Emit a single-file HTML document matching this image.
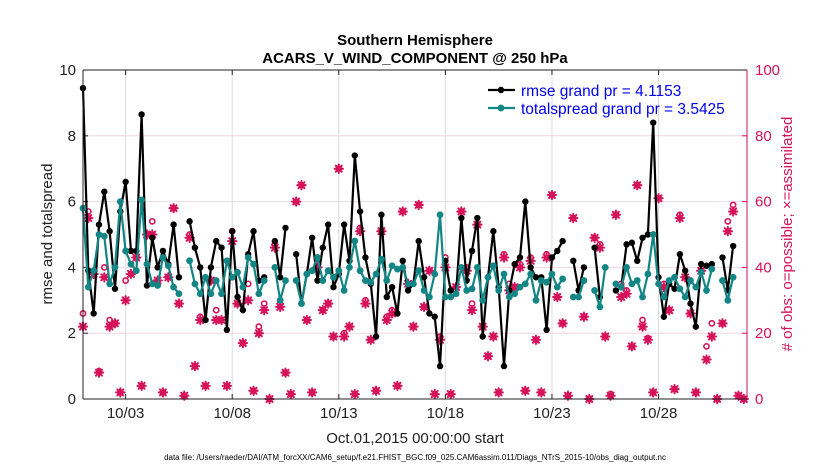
<!DOCTYPE html>
<html><head><meta charset="utf-8"><style>
body{margin:0;background:#fff;font-family:"Liberation Sans",sans-serif}
svg{display:block}
</style></head><body>
<svg id="chart" width="830" height="470">
</svg>
<script>
const rmse=[9.45,3.9,2.6,5.3,6.3,5.1,3.35,5.7,6.6,4.5,4.5,8.65,3.45,4.9,4.0,4.5,4.1,5.3,3.7,null,5.4,4.6,4.0,2.4,4.0,4.8,4.6,2.1,5.1,3.1,2.7,
4.4,5.1,3.6,3.7,null,4.8,3.7,5.2,null,4.4,2.9,3.8,4.9,3.6,4.6,5.3,3.4,3.8,5.3,4.2,7.4,5.7,4.3,3.5,1.9,5.6,3.1,3.4,2.6,4.2,3.3,
3.5,4.8,3.7,2.6,2.5,1.0,4.2,3.3,3.2,5.5,3.6,4.5,5.5,1.9,3.7,5.1,3.4,1.0,3.3,4.1,4.3,6.0,4.0,3.7,3.7,2.1,4.3,4.5,4.8,null,4.2,
3.3,4.0,null,4.6,3.1,null,null,3.3,3.4,4.7,4.75,4.2,4.9,5.0,8.4,3.7,2.5,3.5,3.35,4.4,3.9,2.9,2.2,4.1,4.05,4.1,null,4.3,3.3,4.65];
const spread=[5.8,3.4,3.9,5.0,4.95,3.5,4.0,6.0,4.5,4.1,3.9,6.05,4.1,3.5,3.45,4.3,4.05,3.4,3.2,null,4.2,3.5,3.2,3.7,3.2,3.6,3.2,4.2,3.7,3.85,3.4,
4.3,4.1,3.2,3.6,null,4.0,3.0,3.6,null,3.6,2.9,3.8,3.9,4.3,3.6,3.9,3.7,3.9,3.3,4.0,4.8,3.9,3.6,3.55,3.8,4.25,3.6,4.05,3.95,4.0,3.5,
3.5,3.9,3.3,3.1,3.8,5.6,3.1,3.1,3.2,4.0,3.3,3.35,4.0,3.0,3.7,4.05,3.3,3.8,3.1,3.2,3.4,3.5,3.8,3.0,3.6,3.55,3.8,3.4,3.65,null,3.1,
3.1,3.6,null,3.3,2.8,4.0,null,3.5,3.4,4.0,3.5,3.6,3.1,3.8,5.0,3.5,3.1,3.6,3.7,3.35,3.1,3.6,3.4,3.85,3.3,3.95,null,3.6,3.0,3.7];
const obsAssim=[22,55,38,8,37,22,23,2,30,38,43,4,50,50,36,2,37,58,29,1,49,10,24,4,36,24,24,4,48,29,17,
30,2.5,20,27,0,46,28,8,1.5,60,65,24,2,40,27,29,19,70,19,22,1.5,51,29,18,2.5,51,24,26,4,57,35,
22,59,28,39,1.5,18,40,1.5,34,57,39,27,53,22,13,19,2,43,33,34,40,2.5,42,18,2,43,62,31,23,1,55,
null,25,0,49,46,19,1,56,31,32,16,65,22,18,2,61,34,27,3,55,37,26,2,39,12,19,0,23,51,57,1,0];
const obsPossible=[26,57,38,8.5,40,24,23,2,36,38,43,4,50,54,36,2,37,58,29,1,50,10,25,4,36,27,24,4,51,29,17,
35,2.5,22,29,0,47,29,8,1.5,60,65,24,2,41,27,29,19,70,20,22,1.5,52,30,18,2.5,51,25,27,4,57,35,
22,59,28,39,1.5,19,43,1.5,34,57,40,29,53,22,13,19,2,44,35,34,41,2.5,43,18,2,44,62,31,23,1,55,
null,25,0,49,47,19,1.5,56,35,33,16,65,24,18.5,2,61,35,27,3,56,37,26,2,39,16,23,0,23,54,59,1,0];
const yTicks=[0,2,4,6,8,10];
const y2Ticks=[0,20,40,60,80,100];
const xTickDays=[2,7,12,17,22,27];
const xTickLabels=["10/03","10/08","10/13","10/18","10/23","10/28"];

const L=83,R=747,T=70,B=399;
const dayMax=31.15;
const xs=d=>L+(d/dayMax)*(R-L);
const xi=i=>xs(i*0.25);
const ys=v=>B-(v/10)*(B-T);
const y2=v=>B-(v/100)*(B-T);
const svg=document.getElementById('chart');
const NS='http://www.w3.org/2000/svg';
function mk(tag,attrs,parent){const e=document.createElementNS(NS,tag);for(const k in attrs)e.setAttribute(k,attrs[k]);(parent||svg).appendChild(e);return e;}
const red='#d5125a',teal='#138585';

yTicks.slice(1,-1).forEach(v=>{const g=mk('line',{x1:L,x2:R,y1:ys(v),y2:ys(v),stroke:'#f0d6df','stroke-width':1});

});
xTickDays.forEach((d,k)=>{const g=mk('line',{x1:xs(d),x2:xs(d),y1:T,y2:B,stroke:'#dcdcdc','stroke-width':1});


const t=mk('text',{x:xs(d),y:418,'text-anchor':'middle','font-size':15,fill:'#222'});t.textContent=xTickLabels[k];


mk('line',{x1:xs(d),x2:xs(d),y1:B,y2:B-5,stroke:'#222'});
mk('line',{x1:xs(d),x2:xs(d),y1:T,y2:T+5,stroke:'#222'});});
yTicks.forEach(v=>{const t=mk('text',{x:76,y:ys(v)+5,'text-anchor':'end','font-size':15,fill:'#222'});t.textContent=v;


mk('line',{x1:L,x2:L+5,y1:ys(v),y2:ys(v),stroke:'#222'});});
y2Ticks.forEach(v=>{const t=mk('text',{x:755,y:y2(v)+5,'font-size':15,fill:red});t.textContent=v;


mk('line',{x1:R-5,x2:R,y1:y2(v),y2:y2(v),stroke:red});});

function star(cx,cy){const g=mk('g',{stroke:red,'stroke-width':2,'stroke-linecap':'round'});
mk('circle',{cx:cx,cy:cy,r:3,fill:red,stroke:'none'},g);
[[0,4.2],[4.2,0],[3,3],[3,-3]].forEach(([a,b])=>mk('line',{x1:cx-a,y1:cy-b,x2:cx+a,y2:cy+b},g));return g;}
obsPossible.forEach((v,i)=>{if(v==null)return;const c=mk('circle',{cx:xi(i),cy:y2(v),r:2.6,fill:'none',stroke:red,'stroke-width':1.6});

});
obsAssim.forEach((v,i)=>{if(v==null)return;const s=star(xi(i),y2(v));

});

function series(arr,color,name,r){
  let d='',pen=false;
  arr.forEach((v,i)=>{if(v==null){pen=false;return;}d+=(pen?'L':'M')+xi(i).toFixed(1)+' '+ys(v).toFixed(1)+' ';pen=true;});
  const p=mk('path',{d:d,fill:'none',stroke:color,'stroke-width':2.2,'stroke-linejoin':'round'});
  
  
  arr.forEach((v,i)=>{if(v==null)return;const c=mk('circle',{cx:xi(i),cy:ys(v),r:r,fill:color});
  
  });
}
series(rmse,'#000','rmse',3.2);
series(spread,teal,'totalspread',3.4);

mk('line',{x1:L,x2:R,y1:T,y2:T,stroke:'#222'});
mk('line',{x1:L,x2:R,y1:B,y2:B,stroke:'#222'});
mk('line',{x1:L,x2:L,y1:T,y2:B,stroke:'#222'});
mk('line',{x1:R,x2:R,y1:T,y2:B,stroke:red});

const lg=mk('g',{});


mk('line',{x1:488,x2:515,y1:90,y2:90,stroke:'#000','stroke-width':2.2},lg);
mk('circle',{cx:501,cy:90,r:3.2,fill:'#000'},lg);
mk('line',{x1:488,x2:515,y1:108,y2:108,stroke:teal,'stroke-width':2.2},lg);
mk('circle',{cx:501,cy:108,r:3.4,fill:teal},lg);
let t=mk('text',{x:521,y:96,'font-size':15.5,fill:'#0000ee'},lg);t.textContent='rmse grand pr = 4.1153';


t=mk('text',{x:521,y:114,'font-size':15.5,fill:'#0000ee'},lg);t.textContent='totalspread grand pr = 3.5425';



t=mk('text',{x:415,y:45,'text-anchor':'middle','font-size':15,'font-weight':'bold',fill:'#000'});t.textContent='Southern Hemisphere';


t=mk('text',{x:415,y:63,'text-anchor':'middle','font-size':15,'font-weight':'bold',fill:'#000'});t.textContent='ACARS_V_WIND_COMPONENT @ 250 hPa';


t=mk('text',{x:0,y:0,'text-anchor':'middle','font-size':15,fill:'#222',transform:'translate(52,234) rotate(-90)'});t.textContent='rmse and totalspread';


t=mk('text',{x:0,y:0,'text-anchor':'middle','font-size':15,fill:red,transform:'translate(792,234) rotate(-90)'});t.textContent='# of obs: o=possible; \u00d7=assimilated';


t=mk('text',{x:415,y:443,'text-anchor':'middle','font-size':15,fill:'#222'});t.textContent='Oct.01,2015 00:00:00 start';


t=mk('text',{x:415,y:460,'text-anchor':'middle','font-size':8,fill:'#000'});t.textContent='data file: /Users/raeder/DAI/ATM_forcXX/CAM6_setup/f.e21.FHIST_BGC.f09_025.CAM6assim.011/Diags_NTrS_2015-10/obs_diag_output.nc';


</script>
</body></html>
